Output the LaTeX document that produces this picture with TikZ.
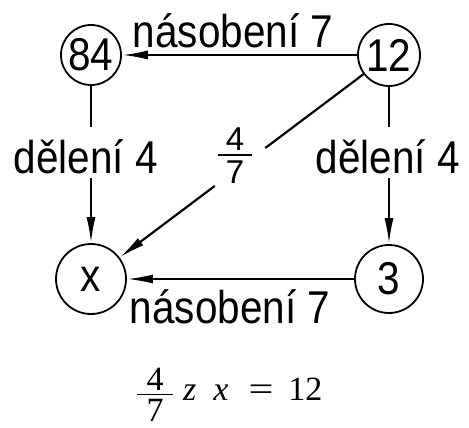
\documentclass[tikz,border=0pt]{standalone}
\usepackage{fontspec}
\setmainfont{Liberation Sans}
\newfontfamily\eqfont{Liberation Serif}
\usepackage{graphicx}
\usetikzlibrary{arrows.meta,calc}
\newcommand\dtxt[1]{\scalebox{0.88}[1]{#1}}
\newcommand\dfr[2]{\hbox to 44pt{\vbox{\hbox to 34pt{\hss #1\hss}\kern4pt\hrule height 2pt\kern4pt\hbox to 34pt{\hss #2\hss}}\hss}}
\newcommand\efr[2]{\raisebox{-21.6pt}{\vbox{\hbox to 36pt{\hss #1\hss}\kern4pt\hrule height 1.3pt\kern4pt\hbox to 36pt{\hss #2\hss}}}}
\begin{document}
\begin{tikzpicture}[x=1pt,y=-1pt,
  circ/.style={circle,draw,line width=1.8pt,inner sep=0pt,font=\fontsize{46}{50}\selectfont},
  lbl/.style={font=\fontsize{46}{50}\selectfont,inner sep=0pt},
  vlbl/.style={lbl,anchor=base,text height=41pt,text depth=0pt,inner ysep=5pt},
  con/.style={line width=2.2pt},
  arr/.style={con,-{Latex[length=26pt,width=9pt]}}]
\useasboundingbox (0,0) rectangle (469,428);
\node[circ,minimum size=60pt] (n84) at (91,55) {\dtxt{84}};
\node[circ,minimum size=62pt] (n12) at (389,55) {\dtxt{12}};
\node[circ,minimum size=70pt] (nx) at (91,279) {\dtxt{x}};
\node[circ,minimum size=68pt] (n3) at (389,279) {\dtxt{3}};
\node[lbl,anchor=base] (tl) at (233,48) {\dtxt{násobení 7}};
\node[lbl,anchor=base] (bl) at (230,323) {\dtxt{násobení 7}};
\node[vlbl] (l1) at (86,173) {\dtxt{dělení 4}};
\node[vlbl] (l2) at (388,173) {\dtxt{dělení 4}};
\node[font=\fontsize{33}{36}\selectfont,inner xsep=3pt,inner ysep=0pt,text height=62pt,text depth=30pt] (fr) at ($(n12)!0.5!(nx)$) {\dfr{4}{7}};
\draw[con] (n84) -- (n84 |- l1.north);
\draw[arr] (n84 |- l1.south) -- (nx);
\draw[con] (n12) -- (n12 |- l2.north);
\draw[arr] (n12 |- l2.south) -- (n3);
\draw[arr] (n12) -- (n84);
\draw[arr] (n3) -- (nx);
\draw[con] (n12) -- (fr);
\draw[arr] (fr) -- (nx);
\node[anchor=base west,font=\eqfont\fontsize{34}{38}\selectfont,inner sep=0pt] (eq) at (137,400) {\efr{4}{7}\kern10pt\textit{z}\kern17pt\textit{x}\kern20pt\scalebox{1.3}[1]{=}\kern15pt12};
\end{tikzpicture}
\end{document}
